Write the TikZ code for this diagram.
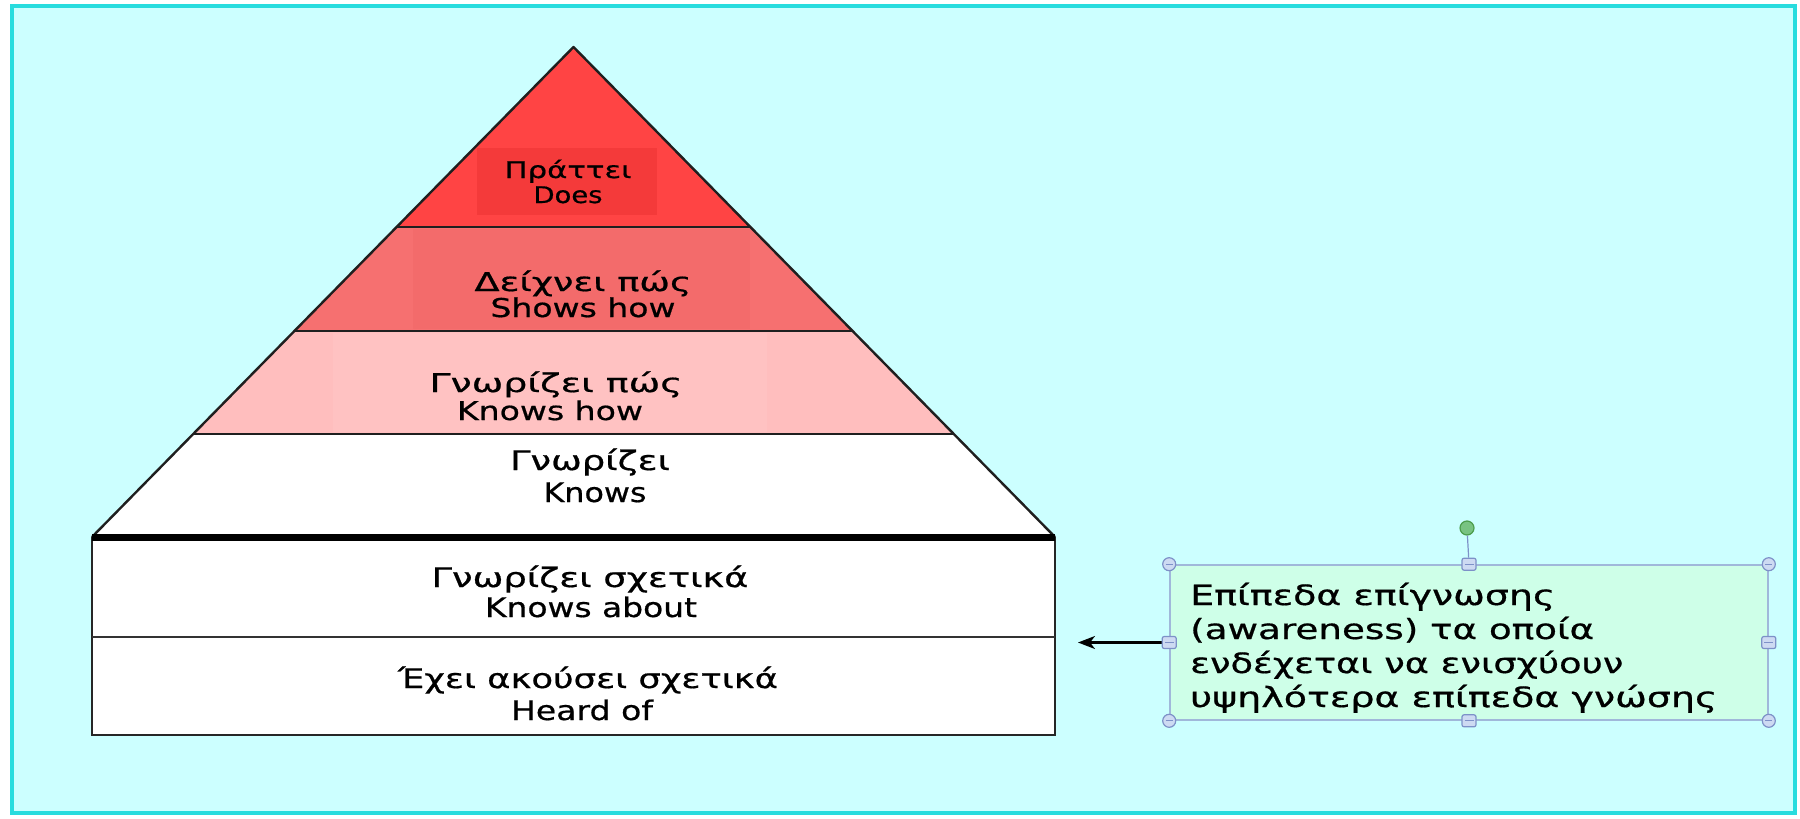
\documentclass[tikz,border=0pt]{standalone}
\usepackage{fontspec}
\setmainfont[FakeBold=0.6]{DejaVu Sans}
\usetikzlibrary{arrows.meta}
\newcommand{\fitw}[2]{\resizebox{#1bp}{\height}{#2}}
\definecolor{bgc}{RGB}{204,255,255}
\definecolor{framec}{RGB}{40,220,222}
\definecolor{doesc}{RGB}{255,68,68}
\definecolor{doestxt}{RGB}{244,58,58}
\definecolor{showsc}{RGB}{246,112,112}
\definecolor{showstxt}{RGB}{243,107,107}
\definecolor{knowshowc}{RGB}{255,190,190}
\definecolor{knowshowtxt}{RGB}{255,194,194}
\definecolor{boxc}{RGB}{206,255,232}
\definecolor{handlec}{RGB}{125,145,200}
\definecolor{handlefill}{RGB}{205,218,242}
\definecolor{boxline}{RGB}{160,184,218}
\definecolor{greenh}{RGB}{120,195,130}
\begin{document}
\begin{tikzpicture}[x=1bp,y=-1bp,
  tier/.style={draw=black!88, line width=2.4bp, line join=round},
  lbl/.style={anchor=base, inner sep=0pt, text=black},
  lblA/.style={lbl, font={\fontsize{23}{26}\selectfont}},
  lblB/.style={lbl, font={\fontsize{26}{28}\selectfont}},
  lblC/.style={lbl, font={\fontsize{27}{30}\selectfont}},
  notetxt/.style={anchor=base west, inner sep=0pt, text=black, font={\fontsize{28}{30}\selectfont}},
  handle/.style={circle, draw=handlec, fill=handlefill, line width=1.2bp, minimum size=13bp, inner sep=0pt,
    path picture={\draw[handlec, line width=1bp] ([xshift=-3.5bp]path picture bounding box.center) -- ([xshift=3.5bp]path picture bounding box.center);}},
  sqhandle/.style={rectangle, rounded corners=2bp, draw=handlec, fill=handlefill, line width=1.2bp, minimum width=14bp, minimum height=12bp, inner sep=0pt,
    path picture={\draw[handlec, line width=1bp] ([xshift=-4.5bp]path picture bounding box.center) -- ([xshift=4.5bp]path picture bounding box.center);}},
]
\useasboundingbox (0,0) rectangle (1800,819);
\fill[white] (0,0) rectangle (1800,819);
\fill[bgc] (12,6) rectangle (1795,813);
\draw[framec, line width=3.5bp] (12,6) rectangle (1795,813);

% pyramid geometry
\coordinate (apex) at (573.5,47);
\coordinate (l1) at (396.6,227); \coordinate (r1) at (750.4,227);
\coordinate (l2) at (294.4,331); \coordinate (r2) at (852.6,331);
\coordinate (l3) at (193.2,434); \coordinate (r3) at (953.8,434);
\coordinate (l4) at (92,537);    \coordinate (r4) at (1055,537);
\coordinate (m1) at (92,637);    \coordinate (m2) at (1055,637);
\coordinate (b1) at (92,735);    \coordinate (b2) at (1055,735);

\fill[doesc] (apex) -- (r1) -- (l1) -- cycle;
\fill[doestxt] (477,148) rectangle (657,215);
\fill[showsc] (l1) -- (r1) -- (r2) -- (l2) -- cycle;
\fill[showstxt] (413,229) rectangle (750,329);
\fill[knowshowc] (l2) -- (r2) -- (r3) -- (l3) -- cycle;
\fill[knowshowtxt] (333,333) rectangle (767,432);
\fill[white] (l3) -- (r3) -- (r4) -- (l4) -- cycle;
\fill[white] (l4) rectangle (b2);

\draw[tier] (l4) -- (apex) -- (r4);
\draw[tier] (l1) -- (r1);
\draw[tier] (l2) -- (r2);
\draw[tier] (l3) -- (r3);
\draw[draw=black!85, line width=2.8bp] (l4) -- (b1) -- (b2) -- (r4);
\draw[draw=black!80, line width=2.4bp] (m1) -- (m2);
\draw[line width=7bp] (l4) -- (r4);

% labels
\node[lblA] (doesGr) at (568,178) {\fitw{127}{Πράττει}};
\node[lblA] (doesEn) at (568,203) {\fitw{69}{Does}};
\node[lblB] (showsGr) at (583,291) {\fitw{217}{Δείχνει πώς}};
\node[lblB] (showsEn) at (583,317) {\fitw{185}{Shows how}};
\node[lblB] (khowGr) at (556,392) {\fitw{253}{Γνωρίζει πώς}};
\node[lblB] (khowEn) at (550,420) {\fitw{186}{Knows how}};
\node[lblC] (knowsGr) at (590,470) {\fitw{160}{Γνωρίζει}};
\node[lblC] (knowsEn) at (595,502) {\fitw{103}{Knows}};
\node[lblC] (aboutGr) at (590,587) {\fitw{317}{Γνωρίζει σχετικά}};
\node[lblC] (aboutEn) at (591,617) {\fitw{212}{Knows about}};
\node[lblC] (heardGr) at (588,688) {\fitw{380}{Έχει ακούσει σχετικά}};
\node[lblC] (heardEn) at (582,720) {\fitw{142}{Heard of}};

% note box
\node[draw=boxline, fill=boxc, line width=1.6bp, minimum width=598bp, minimum height=155bp, inner sep=0pt] (note) at (1469,642.5) {};
\node[notetxt] (n1) at (1190,605) {\fitw{365}{Επίπεδα επίγνωσης}};
\node[notetxt] (n2) at (1190,639) {\fitw{404}{(awareness) τα οποία}};
\node[notetxt] (n3) at (1190,673) {\fitw{433}{ενδέχεται να ενισχύουν}};
\node[notetxt] (n4) at (1190,707) {\fitw{527}{υψηλότερα επίπεδα γνώσης}};

\coordinate (tip) at (1078,642.5);
\draw[-{Stealth[length=17bp,width=13bp,inset=5bp]}, line width=2.2bp] (note.west) -- (tip);

\node[handle] (hnw) at (note.north west) {};
\node[handle] (hne) at (note.north east) {};
\node[handle] (hsw) at (note.south west) {};
\node[handle] (hse) at (note.south east) {};
\node[sqhandle] (hn) at (note.north) {};
\node[sqhandle] (hs) at (note.south) {};
\node[sqhandle] (hw) at (note.west) {};
\node[sqhandle] (he) at (note.east) {};
\node[circle, draw=green!45!black!70, fill=greenh, line width=1.2bp, minimum size=14bp, inner sep=0pt] (rot) at (1467,528) {};
\draw[handlec, line width=1.2bp] (rot) -- (hn);
\end{tikzpicture}
\end{document}
